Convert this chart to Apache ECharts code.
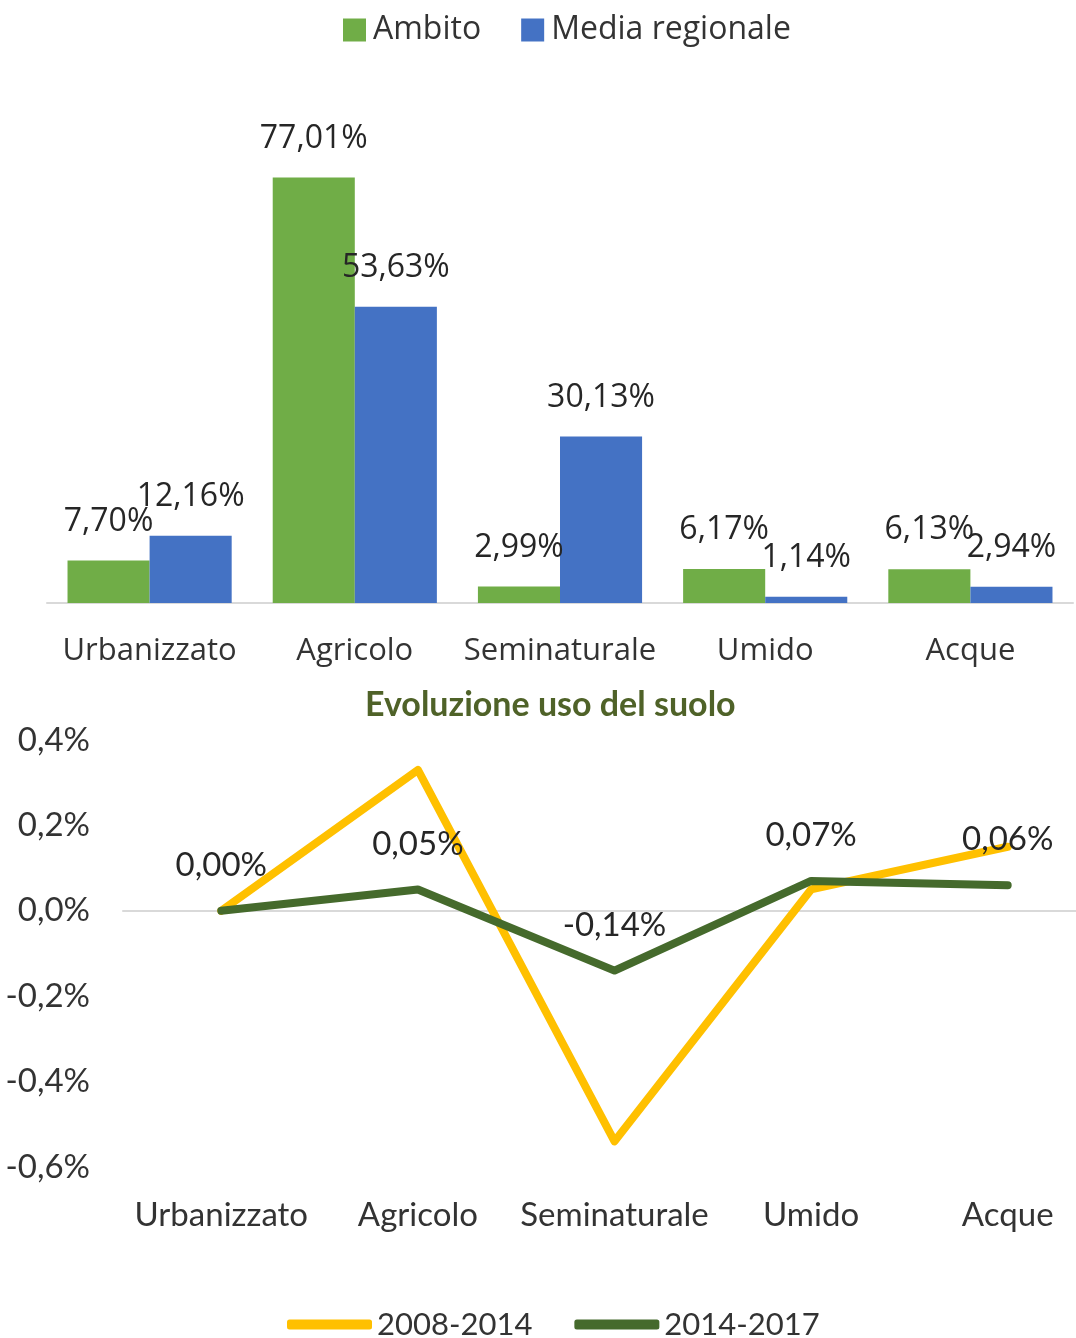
<!DOCTYPE html>
<html>
<head>
<meta charset="utf-8">
<title>Uso del suolo</title>
<script src="https://cdn.jsdelivr.net/npm/echarts@6/dist/echarts.min.js"></script>
<style>
  html, body { margin: 0; padding: 0; background: #ffffff; overflow: hidden; }
  /* the lower plot runs past the right edge of the page, so the canvas is wider than the view */
  #chart { width: 1110px; height: 1338px; }
</style>
</head>
<body>
<div id="chart"></div>
<script>
// Land-use categories
const categories = ['Urbanizzato', 'Agricolo', 'Seminaturale', 'Umido', 'Acque'];

// Share of each land use (%)
const ambito = [7.70, 77.01, 2.99, 6.17, 6.13];
const mediaRegionale = [12.16, 53.63, 30.13, 1.14, 2.94];

// Change in land use (percentage points)
const var2008_2014 = [0.00, 0.33, -0.54, 0.05, 0.15];
const var2014_2017 = [0.00, 0.05, -0.14, 0.07, 0.06];

const fmtPct2 = v => v.toFixed(2).replace('.', ',') + '%';
const fmtPct1 = v => (Math.round(v * 10) / 10).toFixed(1).replace('.', ',') + '%';

const topFont = '"Open Sans", sans-serif';
const lowFont = 'Lato, sans-serif';
const textColor = '#333333';

const chart = echarts.init(document.getElementById('chart'), null, { renderer: 'canvas' });

chart.setOption({
  backgroundColor: '#ffffff',
  animation: false,
  title: {
    text: 'Evoluzione uso del suolo',
    left: 360,
    top: 683,
    textStyle: { fontFamily: lowFont, fontSize: 34, fontWeight: 'bold', color: '#4F6228' }
  },
  legend: [
    {
      data: ['Ambito', 'Media regionale'],
      left: 343,
      top: 14,
      padding: 0,
      itemWidth: 23,
      itemHeight: 23,
      itemGap: 40,
      icon: 'rect',
      textStyle: { fontFamily: topFont, fontSize: 32, color: textColor, padding: [0, 0, 0, 2] }
    },
    {
      data: ['2008-2014', '2014-2017'],
      left: 287,
      top: 1309,
      padding: 0,
      itemWidth: 85,
      itemHeight: 10,
      itemGap: 42,
      icon: 'roundRect',
      textStyle: { fontFamily: lowFont, fontSize: 31, color: textColor, padding: [0, 0, 0, 0] }
    }
  ],
  grid: [
    { left: 47, top: 161, width: 1026, height: 442 },
    { left: 123, top: 740, width: 983, height: 427 }
  ],
  xAxis: [
    {
      type: 'category',
      gridIndex: 0,
      data: categories,
      axisTick: { show: false },
      axisLine: { lineStyle: { color: '#d9d9d9', width: 2 } },
      axisLabel: { margin: 33, fontFamily: topFont, fontSize: 31, color: textColor, interval: 0 }
    },
    {
      // category labels along the bottom edge of the lower plot
      type: 'category',
      gridIndex: 1,
      data: categories,
      position: 'bottom',
      axisTick: { show: false },
      axisLine: { show: false, onZero: false },
      axisLabel: { margin: 32, fontFamily: lowFont, fontSize: 33, color: textColor, interval: 0 }
    },
    {
      // zero line of the lower plot
      type: 'category',
      gridIndex: 1,
      data: categories,
      position: 'top',
      axisTick: { show: false },
      axisLabel: { show: false },
      axisLine: { show: true, onZero: true, lineStyle: { color: '#d9d9d9', width: 2 } }
    }
  ],
  yAxis: [
    {
      type: 'value',
      gridIndex: 0,
      min: 0,
      max: 80,
      show: false,
      splitLine: { show: false }
    },
    {
      type: 'value',
      gridIndex: 1,
      min: -0.6,
      max: 0.4,
      interval: 0.2,
      axisLine: { show: false },
      axisTick: { show: false },
      splitLine: { show: false },
      axisLabel: {
        margin: 33,
        fontFamily: lowFont,
        fontSize: 33,
        color: textColor,
        formatter: v => fmtPct1(v)
      }
    }
  ],
  series: [
    {
      name: 'Ambito',
      type: 'bar',
      xAxisIndex: 0,
      yAxisIndex: 0,
      data: ambito,
      barGap: '0%',
      barCategoryGap: '20%',
      itemStyle: { color: '#70AD47' },
      label: {
        show: true,
        position: 'top',
        distance: 23,
        fontFamily: topFont,
        fontSize: 32,
        color: '#262626',
        formatter: p => fmtPct2(p.value)
      }
    },
    {
      name: 'Media regionale',
      type: 'bar',
      xAxisIndex: 0,
      yAxisIndex: 0,
      data: mediaRegionale,
      barGap: '0%',
      barCategoryGap: '20%',
      itemStyle: { color: '#4472C4' },
      label: {
        show: true,
        position: 'top',
        distance: 23,
        fontFamily: topFont,
        fontSize: 32,
        color: '#262626',
        formatter: p => fmtPct2(p.value)
      }
    },
    {
      name: '2008-2014',
      type: 'line',
      xAxisIndex: 1,
      yAxisIndex: 1,
      data: var2008_2014,
      showSymbol: false,
      symbol: 'none',
      itemStyle: { color: '#FFC000' },
      lineStyle: { color: '#FFC000', width: 8, cap: 'round', join: 'round' },
      z: 2
    },
    {
      name: '2014-2017',
      type: 'line',
      xAxisIndex: 1,
      yAxisIndex: 1,
      data: var2014_2017,
      showSymbol: true,
      symbol: 'circle',
      symbolSize: 0.1,
      itemStyle: { color: '#456A2C' },
      lineStyle: { color: '#456A2C', width: 8, cap: 'round', join: 'round' },
      label: {
        show: true,
        position: 'top',
        distance: 29,
        fontFamily: lowFont,
        fontSize: 33,
        color: '#262626',
        formatter: p => fmtPct2(p.value)
      },
      z: 3
    }
  ]
});
</script>
</body>
</html>
